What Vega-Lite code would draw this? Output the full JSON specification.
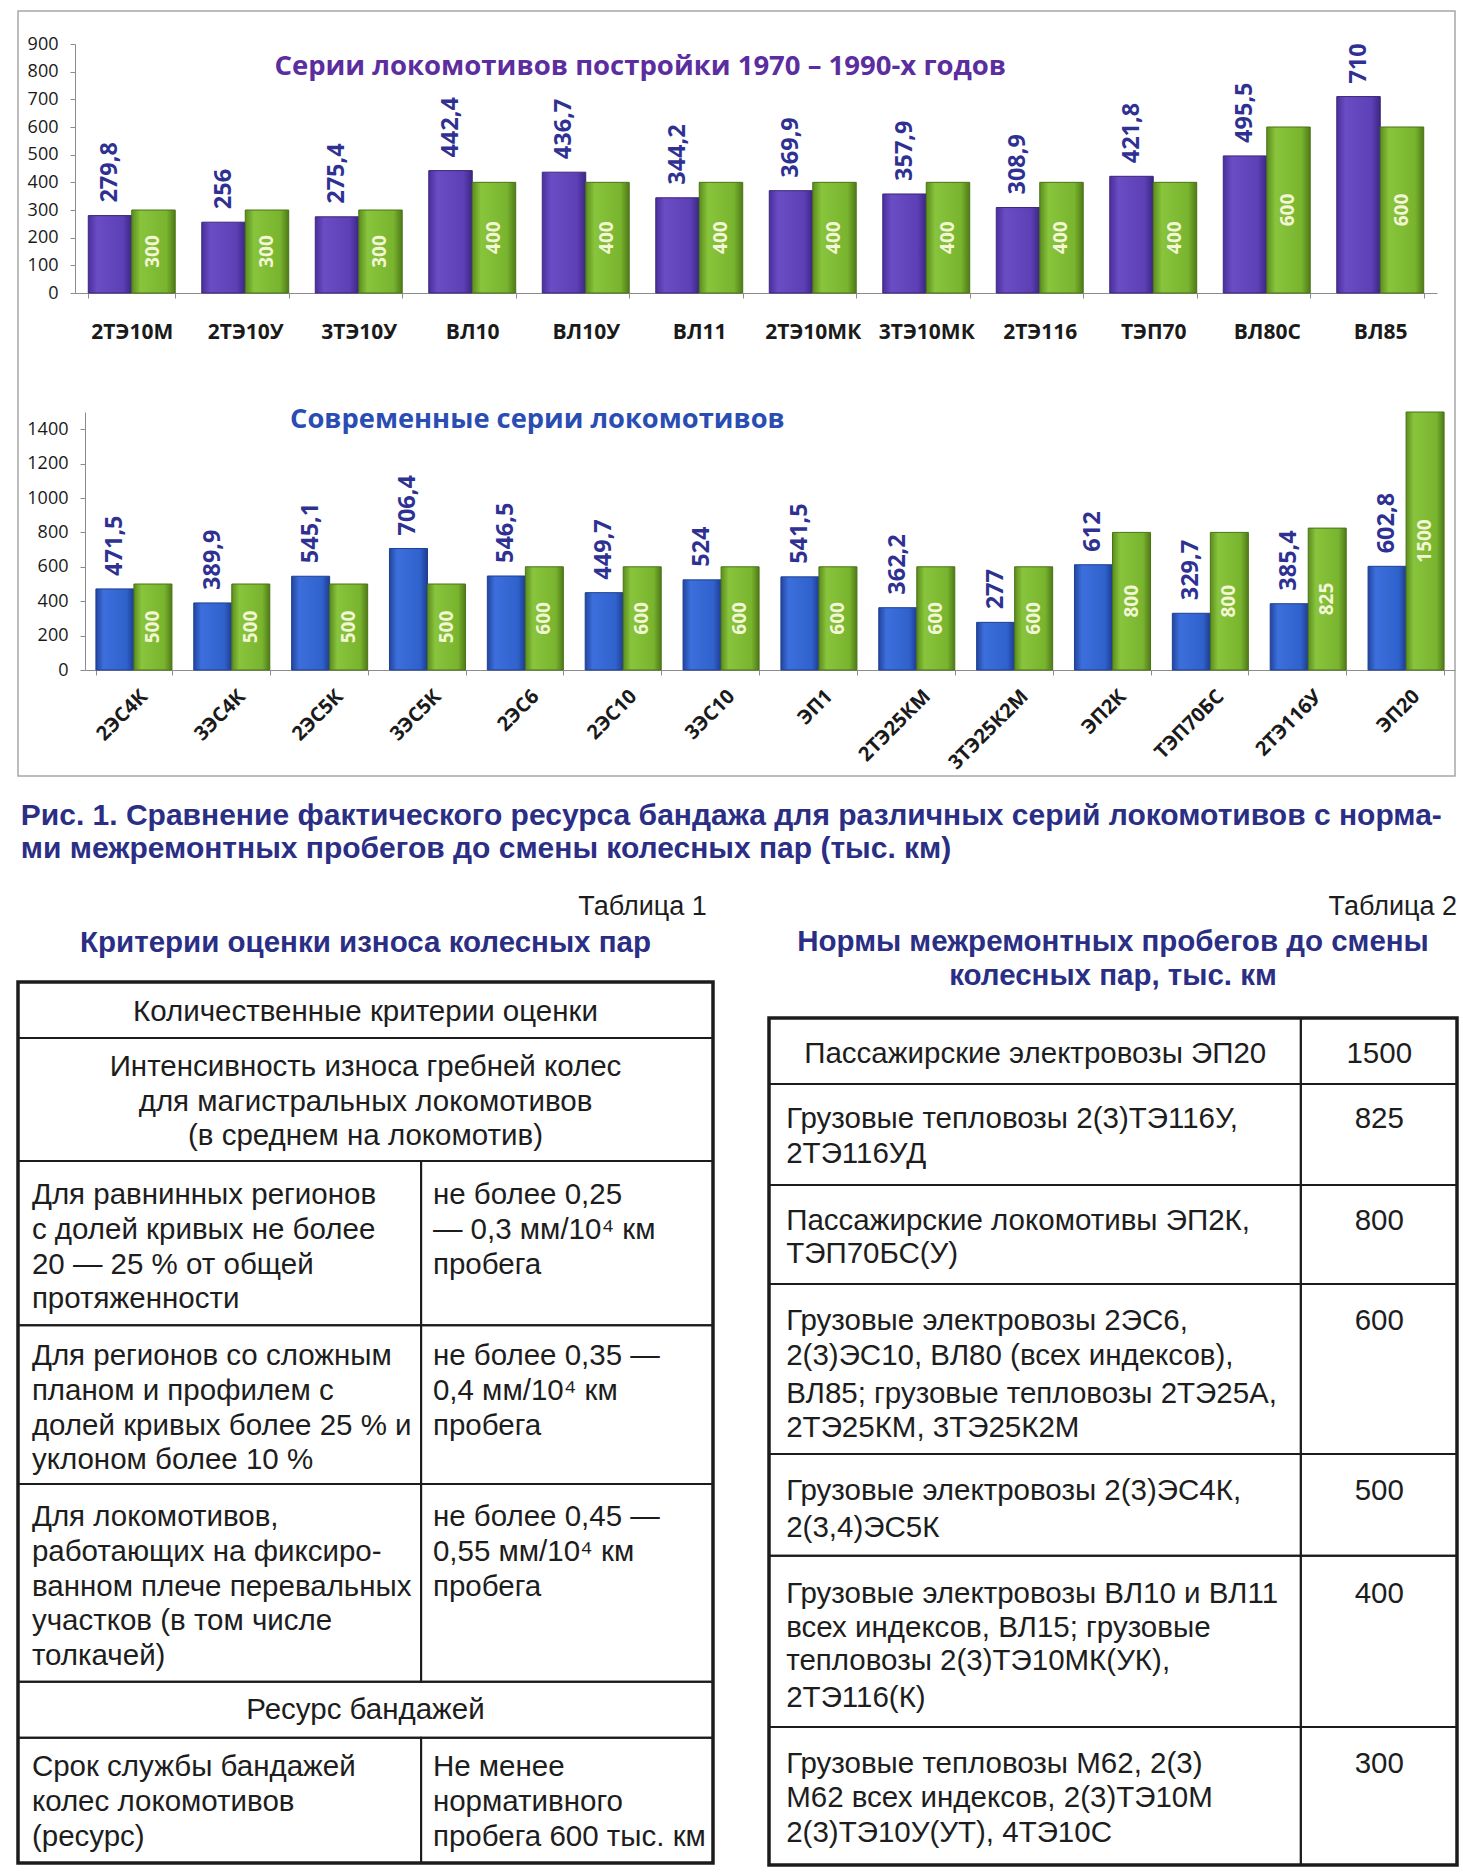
{
  "$schema": "https://vega.github.io/schema/vega-lite/v6.json",
  "padding": {"left": 10, "top": 10, "right": 0, "bottom": 0},
  "autosize": {"type": "pad"},
  "background": "white",
  "spacing": 0,
  "bounds": "flush",
  "config": {
    "locale": {"number": {"decimal": ",", "thousands": " ", "grouping": [3], "currency": ["", ""]}},
    "view": {"stroke": null},
    "axis": {"grid": false, "title": null}
  },
  "datasets": {
    "old": [
      {"loco": "2ТЭ10М", "fact": 279.8, "norm": 300},
      {"loco": "2ТЭ10У", "fact": 256, "norm": 300},
      {"loco": "3ТЭ10У", "fact": 275.4, "norm": 300},
      {"loco": "ВЛ10", "fact": 442.4, "norm": 400},
      {"loco": "ВЛ10У", "fact": 436.7, "norm": 400},
      {"loco": "ВЛ11", "fact": 344.2, "norm": 400},
      {"loco": "2ТЭ10МК", "fact": 369.9, "norm": 400},
      {"loco": "3ТЭ10МК", "fact": 357.9, "norm": 400},
      {"loco": "2ТЭ116", "fact": 308.9, "norm": 400},
      {"loco": "ТЭП70", "fact": 421.8, "norm": 400},
      {"loco": "ВЛ80С", "fact": 495.5, "norm": 600},
      {"loco": "ВЛ85", "fact": 710, "norm": 600}
    ],
    "modern": [
      {"loco": "2ЭС4К", "fact": 471.5, "norm": 500},
      {"loco": "3ЭС4К", "fact": 389.9, "norm": 500},
      {"loco": "2ЭС5К", "fact": 545.1, "norm": 500},
      {"loco": "3ЭС5К", "fact": 706.4, "norm": 500},
      {"loco": "2ЭС6", "fact": 546.5, "norm": 600},
      {"loco": "2ЭС10", "fact": 449.7, "norm": 600},
      {"loco": "3ЭС10", "fact": 524, "norm": 600},
      {"loco": "ЭП1", "fact": 541.5, "norm": 600},
      {"loco": "2ТЭ25КМ", "fact": 362.2, "norm": 600},
      {"loco": "3ТЭ25К2М", "fact": 277, "norm": 600},
      {"loco": "ЭП2К", "fact": 612, "norm": 800},
      {"loco": "ТЭП70БС", "fact": 329.7, "norm": 800},
      {"loco": "2ТЭ116У", "fact": 385.4, "norm": 825},
      {"loco": "ЭП20", "fact": 602.8, "norm": 1500}
    ],
    "t1cells": [
      {"x0": 0, "x1": 1, "y0": 0, "y1": 1.61},
      {"x0": 0, "x1": 1, "y0": 1.61, "y1": 5.15},
      {"x0": 0, "x1": 0.58, "y0": 5.15, "y1": 9.87},
      {"x0": 0.58, "x1": 1, "y0": 5.15, "y1": 9.87},
      {"x0": 0, "x1": 0.58, "y0": 9.87, "y1": 14.44},
      {"x0": 0.58, "x1": 1, "y0": 9.87, "y1": 14.44},
      {"x0": 0, "x1": 0.58, "y0": 14.44, "y1": 20.13},
      {"x0": 0.58, "x1": 1, "y0": 14.44, "y1": 20.13},
      {"x0": 0, "x1": 1, "y0": 20.13, "y1": 21.74},
      {"x0": 0, "x1": 0.58, "y0": 21.74, "y1": 25.34},
      {"x0": 0.58, "x1": 1, "y0": 21.74, "y1": 25.34}
    ],
    "t1text": [
      {"k": "cap", "x": 0.004, "ln": -4.77, "text": "Рис. 1. Сравнение фактического ресурса бандажа для различных серий локомотивов с норма-"},
      {"k": "cap", "x": 0.004, "ln": -3.82, "text": "ми межремонтных пробегов до смены колесных пар (тыс. км)"},
      {"k": "tab", "x": 0.991, "ln": -2.17, "text": "Таблица 1"},
      {"k": "ttl", "x": 0.5, "ln": -1.11, "text": "Критерии оценки износа колесных пар"},
      {"k": "hdr", "x": 0.5, "ln": 0.86, "text": "Количественные критерии оценки"},
      {"k": "hdr", "x": 0.5, "ln": 2.44, "text": "Интенсивность износа гребней колес"},
      {"k": "hdr", "x": 0.5, "ln": 3.44, "text": "для магистральных локомотивов"},
      {"k": "hdr", "x": 0.5, "ln": 4.44, "text": "(в среднем на локомотив)"},
      {"k": "txt", "x": 0.02, "ln": 6.13, "text": "Для равнинных регионов"},
      {"k": "txt", "x": 0.02, "ln": 7.13, "text": "с долей кривых не более"},
      {"k": "txt", "x": 0.02, "ln": 8.13, "text": "20 — 25 % от общей"},
      {"k": "txt", "x": 0.02, "ln": 9.13, "text": "протяженности"},
      {"k": "txt", "x": 0.597, "ln": 6.13, "text": "не более 0,25"},
      {"k": "txt", "x": 0.597, "ln": 7.13, "text": "— 0,3 мм/10⁴ км"},
      {"k": "txt", "x": 0.597, "ln": 8.13, "text": "пробега"},
      {"k": "txt", "x": 0.02, "ln": 10.76, "text": "Для регионов со сложным"},
      {"k": "txt", "x": 0.02, "ln": 11.76, "text": "планом и профилем с"},
      {"k": "txt", "x": 0.02, "ln": 12.76, "text": "долей кривых более 25 % и"},
      {"k": "txt", "x": 0.02, "ln": 13.76, "text": "уклоном более 10 %"},
      {"k": "txt", "x": 0.597, "ln": 10.76, "text": "не более 0,35 —"},
      {"k": "txt", "x": 0.597, "ln": 11.76, "text": "0,4 мм/10⁴ км"},
      {"k": "txt", "x": 0.597, "ln": 12.76, "text": "пробега"},
      {"k": "txt", "x": 0.02, "ln": 15.39, "text": "Для локомотивов,"},
      {"k": "txt", "x": 0.02, "ln": 16.39, "text": "работающих на фиксиро-"},
      {"k": "txt", "x": 0.02, "ln": 17.39, "text": "ванном плече перевальных"},
      {"k": "txt", "x": 0.02, "ln": 18.39, "text": "участков (в том числе"},
      {"k": "txt", "x": 0.02, "ln": 19.39, "text": "толкачей)"},
      {"k": "txt", "x": 0.597, "ln": 15.39, "text": "не более 0,45 —"},
      {"k": "txt", "x": 0.597, "ln": 16.39, "text": "0,55 мм/10⁴ км"},
      {"k": "txt", "x": 0.597, "ln": 17.39, "text": "пробега"},
      {"k": "hdr", "x": 0.5, "ln": 20.94, "text": "Ресурс бандажей"},
      {"k": "txt", "x": 0.02, "ln": 22.58, "text": "Срок службы бандажей"},
      {"k": "txt", "x": 0.02, "ln": 23.58, "text": "колес локомотивов"},
      {"k": "txt", "x": 0.02, "ln": 24.58, "text": "(ресурс)"},
      {"k": "txt", "x": 0.597, "ln": 22.58, "text": "Не менее"},
      {"k": "txt", "x": 0.597, "ln": 23.58, "text": "нормативного"},
      {"k": "txt", "x": 0.597, "ln": 24.58, "text": "пробега 600 тыс. км"}
    ],
    "t2cells": [
      {"x0": 0, "x1": 0.773, "y0": 0, "y1": 1.91},
      {"x0": 0.773, "x1": 1, "y0": 0, "y1": 1.91},
      {"x0": 0, "x1": 0.773, "y0": 1.91, "y1": 4.84},
      {"x0": 0.773, "x1": 1, "y0": 1.91, "y1": 4.84},
      {"x0": 0, "x1": 0.773, "y0": 4.84, "y1": 7.71},
      {"x0": 0.773, "x1": 1, "y0": 4.84, "y1": 7.71},
      {"x0": 0, "x1": 0.773, "y0": 7.71, "y1": 12.64},
      {"x0": 0.773, "x1": 1, "y0": 7.71, "y1": 12.64},
      {"x0": 0, "x1": 0.773, "y0": 12.64, "y1": 15.59},
      {"x0": 0.773, "x1": 1, "y0": 12.64, "y1": 15.59},
      {"x0": 0, "x1": 0.773, "y0": 15.59, "y1": 20.55},
      {"x0": 0.773, "x1": 1, "y0": 15.59, "y1": 20.55},
      {"x0": 0, "x1": 0.773, "y0": 20.55, "y1": 24.55},
      {"x0": 0.773, "x1": 1, "y0": 20.55, "y1": 24.55}
    ],
    "t2text": [
      {"k": "tab", "x": 1, "ln": -3.23, "text": "Таблица 2"},
      {"k": "ttl", "x": 0.5, "ln": -2.2, "text": "Нормы межремонтных пробегов до смены"},
      {"k": "ttl", "x": 0.5, "ln": -1.22, "text": "колесных пар, тыс. км"},
      {"k": "hdr", "x": 0.387, "ln": 1.04, "text": "Пассажирские электровозы ЭП20"},
      {"k": "hdr", "x": 0.887, "ln": 1.04, "text": "1500"},
      {"k": "txt", "x": 0.025, "ln": 2.93, "text": "Грузовые тепловозы 2(3)ТЭ116У,"},
      {"k": "txt", "x": 0.025, "ln": 3.94, "text": "2ТЭ116УД"},
      {"k": "hdr", "x": 0.887, "ln": 2.93, "text": "825"},
      {"k": "txt", "x": 0.025, "ln": 5.88, "text": "Пассажирские локомотивы ЭП2К,"},
      {"k": "txt", "x": 0.025, "ln": 6.84, "text": "ТЭП70БС(У)"},
      {"k": "hdr", "x": 0.887, "ln": 5.88, "text": "800"},
      {"k": "txt", "x": 0.025, "ln": 8.78, "text": "Грузовые электровозы 2ЭС6,"},
      {"k": "txt", "x": 0.025, "ln": 9.8, "text": "2(3)ЭС10, ВЛ80 (всех индексов),"},
      {"k": "txt", "x": 0.025, "ln": 10.9, "text": "ВЛ85; грузовые тепловозы 2ТЭ25А,"},
      {"k": "txt", "x": 0.025, "ln": 11.88, "text": "2ТЭ25КМ, 3ТЭ25К2М"},
      {"k": "hdr", "x": 0.887, "ln": 8.78, "text": "600"},
      {"k": "txt", "x": 0.025, "ln": 13.71, "text": "Грузовые электровозы 2(3)ЭС4К,"},
      {"k": "txt", "x": 0.025, "ln": 14.78, "text": "2(3,4)ЭС5К"},
      {"k": "hdr", "x": 0.887, "ln": 13.71, "text": "500"},
      {"k": "txt", "x": 0.025, "ln": 16.7, "text": "Грузовые электровозы ВЛ10 и ВЛ11"},
      {"k": "txt", "x": 0.025, "ln": 17.68, "text": "всех индексов, ВЛ15; грузовые"},
      {"k": "txt", "x": 0.025, "ln": 18.64, "text": "тепловозы 2(3)ТЭ10МК(УК),"},
      {"k": "txt", "x": 0.025, "ln": 19.71, "text": "2ТЭ116(К)"},
      {"k": "hdr", "x": 0.887, "ln": 16.7, "text": "400"},
      {"k": "txt", "x": 0.025, "ln": 21.62, "text": "Грузовые тепловозы М62, 2(3)"},
      {"k": "txt", "x": 0.025, "ln": 22.61, "text": "М62 всех индексов, 2(3)ТЭ10М"},
      {"k": "txt", "x": 0.025, "ln": 23.62, "text": "2(3)ТЭ10У(УТ), 4ТЭ10С"},
      {"k": "hdr", "x": 0.887, "ln": 21.62, "text": "300"}
    ]
  },
  "vconcat": [
    {
      "width": 1437,
      "height": 765,
      "view": {"stroke": "#a6a6a6", "strokeWidth": 1.5},
      "layer": [
        {
          "data": {"name": "old"},
          "encoding": {
            "x": {
              "field": "loco", "type": "nominal", "sort": null,
              "scale": {"domain": ["2ТЭ10М", "2ТЭ10У", "3ТЭ10У", "ВЛ10", "ВЛ10У", "ВЛ11", "2ТЭ10МК", "3ТЭ10МК", "2ТЭ116", "ТЭП70", "ВЛ80С", "ВЛ85"], "range": [57, 1419], "paddingInner": 0.234, "paddingOuter": 0.117},
              "axis": {"orient": "bottom", "offset": -483, "labelAngle": 0, "labelFont": "Open Sans", "labelFontWeight": "bold", "labelFontSize": 21, "labelColor": "#1a1a1a", "labelPadding": 34, "labelBaseline": "middle", "labelOverlap": false, "tickBand": "extent", "tickSize": 5, "tickColor": "#8c8c8c", "domainColor": "#8c8c8c"}
            }
          },
          "layer": [
            {
              "mark": {"type": "bar", "color": {"gradient": "linear", "x1": 0, "y1": 0, "x2": 1, "y2": 0, "stops": [{"offset": 0, "color": "#4a2f9c"}, {"offset": 0.2, "color": "#6a4cc4"}, {"offset": 0.8, "color": "#5d3fb6"}, {"offset": 1, "color": "#3b2783"}]}, "stroke": "#3a2778", "strokeWidth": 1},
              "encoding": {
                "xOffset": {"datum": "fact", "scale": {"domain": ["fact", "norm"], "paddingInner": 0, "paddingOuter": 0}},
                "y": {"field": "fact", "type": "quantitative", "scale": {"domain": [0, 900], "range": [282, 33], "nice": false},
                  "axis": {"orient": "left", "offset": -57, "values": [0, 100, 200, 300, 400, 500, 600, 700, 800, 900], "format": "d", "labelFont": "Open Sans", "labelFontSize": 18, "labelColor": "#1a1a1a", "labelPadding": 12, "tickSize": 5, "tickColor": "#8c8c8c", "domainColor": "#8c8c8c"}}
              }
            },
            {
              "mark": {"type": "bar", "color": {"gradient": "linear", "x1": 0, "y1": 0, "x2": 1, "y2": 0, "stops": [{"offset": 0, "color": "#5c8d1e"}, {"offset": 0.2, "color": "#88c43c"}, {"offset": 0.8, "color": "#79b42e"}, {"offset": 1, "color": "#4f7a18"}]}, "stroke": "#4a7316", "strokeWidth": 1},
              "encoding": {
                "xOffset": {"datum": "norm"},
                "y": {"field": "norm", "type": "quantitative", "scale": {"domain": [0, 900], "range": [282, 33], "nice": false}, "axis": null}
              }
            },
            {
              "mark": {"type": "text", "angle": 270, "align": "left", "baseline": "middle", "dx": 13, "font": "Open Sans", "fontWeight": "bold", "fontSize": 23.5, "color": "#2e3192"},
              "encoding": {
                "xOffset": {"datum": "fact"},
                "y": {"field": "fact", "type": "quantitative", "scale": {"domain": [0, 900], "range": [282, 33], "nice": false}, "axis": null},
                "text": {"field": "fact", "type": "quantitative", "format": ".1~f"}
              }
            },
            {
              "mark": {"type": "text", "angle": 270, "align": "center", "baseline": "middle", "font": "Open Sans", "fontWeight": "bold", "fontSize": 19, "color": "#f3f6d4"},
              "encoding": {
                "xOffset": {"datum": "norm"},
                "y": {"field": "norm", "type": "quantitative", "scale": {"domain": [0, 1800], "range": [282, 33], "nice": false}, "axis": null},
                "text": {"field": "norm", "type": "quantitative", "format": "d"}
              }
            },
            {
              "data": {"values": [{"t": "Серии локомотивов постройки 1970 – 1990-х годов"}]},
              "mark": {"type": "text", "align": "center", "baseline": "middle", "dx": -59, "font": "Open Sans", "fontWeight": "bold", "fontSize": 27.5, "color": "#5b2d9e"},
              "encoding": {
                "x": {"datum": "ВЛ11"},
                "y": {"datum": 817, "type": "quantitative", "scale": {"domain": [0, 900], "range": [282, 33], "nice": false}, "axis": null},
                "text": {"field": "t"}
              }
            }
          ],
          "resolve": {"scale": {"y": "independent"}, "axis": {"y": "independent"}}
        },
        {
          "data": {"name": "modern"},
          "encoding": {
            "x": {
              "field": "loco", "type": "nominal", "sort": null,
              "scale": {"domain": ["2ЭС4К", "3ЭС4К", "2ЭС5К", "3ЭС5К", "2ЭС6", "2ЭС10", "3ЭС10", "ЭП1", "2ТЭ25КМ", "3ТЭ25К2М", "ЭП2К", "ТЭП70БС", "2ТЭ116У", "ЭП20"], "range": [67, 1437], "paddingInner": 0.223, "paddingOuter": 0.1115},
              "axis": {"orient": "bottom", "offset": -106, "labelAngle": -45, "labelAlign": "right", "labelBaseline": "middle", "labelFont": "Open Sans", "labelFontWeight": "bold", "labelFontSize": 20, "labelColor": "#1a1a1a", "labelPadding": 18, "labelOffset": 10, "labelOverlap": false, "tickBand": "extent", "tickSize": 5, "tickColor": "#8c8c8c", "domainColor": "#8c8c8c"}
            }
          },
          "layer": [
            {
              "mark": {"type": "bar", "color": {"gradient": "linear", "x1": 0, "y1": 0, "x2": 1, "y2": 0, "stops": [{"offset": 0, "color": "#22459f"}, {"offset": 0.2, "color": "#3c6fdc"}, {"offset": 0.8, "color": "#3062cc"}, {"offset": 1, "color": "#1e3d92"}]}, "stroke": "#1f3f90", "strokeWidth": 1},
              "encoding": {
                "xOffset": {"datum": "fact", "scale": {"domain": ["fact", "norm"], "paddingInner": 0, "paddingOuter": 0}},
                "y": {"field": "fact", "type": "quantitative", "scale": {"domain": [0, 1500], "range": [659, 401], "nice": false},
                  "axis": {"orient": "left", "offset": -67, "values": [0, 200, 400, 600, 800, 1000, 1200, 1400], "format": "d", "labelFont": "Open Sans", "labelFontSize": 18, "labelColor": "#1a1a1a", "labelPadding": 12, "tickSize": 5, "tickColor": "#8c8c8c", "domainColor": "#8c8c8c"}}
              }
            },
            {
              "mark": {"type": "bar", "color": {"gradient": "linear", "x1": 0, "y1": 0, "x2": 1, "y2": 0, "stops": [{"offset": 0, "color": "#5c8d1e"}, {"offset": 0.2, "color": "#88c43c"}, {"offset": 0.8, "color": "#79b42e"}, {"offset": 1, "color": "#4f7a18"}]}, "stroke": "#4a7316", "strokeWidth": 1},
              "encoding": {
                "xOffset": {"datum": "norm"},
                "y": {"field": "norm", "type": "quantitative", "scale": {"domain": [0, 1500], "range": [659, 401], "nice": false}, "axis": null}
              }
            },
            {
              "mark": {"type": "text", "angle": 270, "align": "left", "baseline": "middle", "dx": 13, "font": "Open Sans", "fontWeight": "bold", "fontSize": 23.5, "color": "#2e3192"},
              "encoding": {
                "xOffset": {"datum": "fact"},
                "y": {"field": "fact", "type": "quantitative", "scale": {"domain": [0, 1500], "range": [659, 401], "nice": false}, "axis": null},
                "text": {"field": "fact", "type": "quantitative", "format": ".1~f"}
              }
            },
            {
              "mark": {"type": "text", "angle": 270, "align": "center", "baseline": "middle", "font": "Open Sans", "fontWeight": "bold", "fontSize": 19, "color": "#f3f6d4"},
              "encoding": {
                "xOffset": {"datum": "norm"},
                "y": {"field": "norm", "type": "quantitative", "scale": {"domain": [0, 3000], "range": [659, 401], "nice": false}, "axis": null},
                "text": {"field": "norm", "type": "quantitative", "format": "d"}
              }
            },
            {
              "data": {"values": [{"t": "Современные серии локомотивов"}]},
              "mark": {"type": "text", "align": "center", "baseline": "middle", "dx": 12, "font": "Open Sans", "fontWeight": "bold", "fontSize": 27.3, "color": "#2a4db3"},
              "encoding": {
                "x": {"datum": "2ЭС6"},
                "y": {"datum": 1453, "type": "quantitative", "scale": {"domain": [0, 1500], "range": [659, 401], "nice": false}, "axis": null},
                "text": {"field": "t"}
              }
            }
          ],
          "resolve": {"scale": {"y": "independent"}, "axis": {"y": "independent"}}
        }
      ],
      "resolve": {"scale": {"x": "independent", "y": "independent", "xOffset": "independent"}, "axis": {"x": "independent", "y": "independent"}}
    },
    {
      "width": 1445,
      "height": 1100,
      "layer": [
        {
          "data": {"name": "t1text"},
          "layer": [
            {
              "data": {"name": "t1cells"},
              "mark": {"type": "rect", "fill": "transparent", "stroke": "#1c1c1c", "strokeWidth": 2},
              "encoding": {
                "x": {"field": "x0", "type": "quantitative", "scale": {"domain": [0, 1], "range": [0, 695], "nice": false, "zero": false}, "axis": null},
                "x2": {"field": "x1"},
                "y": {"field": "y0", "type": "quantitative", "scale": {"domain": [0, 25.34], "range": [206, 1087], "nice": false, "zero": false}, "axis": null},
                "y2": {"field": "y1"}
              }
            },
            {
              "data": {"values": [{}]},
              "mark": {"type": "rect", "fill": "transparent", "stroke": "#1c1c1c", "strokeWidth": 3.5},
              "encoding": {
                "x": {"datum": 0, "type": "quantitative"},
                "x2": {"datum": 1},
                "y": {"datum": 0, "type": "quantitative"},
                "y2": {"datum": 25.34}
              }
            },
            {
              "transform": [{"filter": "datum.k == 'txt'"}],
              "mark": {"type": "text", "align": "left", "baseline": "middle", "font": "Liberation Sans", "fontSize": 29.5, "color": "#1d1d1d"},
              "encoding": {"x": {"field": "x", "type": "quantitative"}, "y": {"field": "ln", "type": "quantitative"}, "text": {"field": "text"}}
            },
            {
              "transform": [{"filter": "datum.k == 'hdr'"}],
              "mark": {"type": "text", "align": "center", "baseline": "middle", "font": "Liberation Sans", "fontSize": 29.5, "color": "#1d1d1d"},
              "encoding": {"x": {"field": "x", "type": "quantitative"}, "y": {"field": "ln", "type": "quantitative"}, "text": {"field": "text"}}
            },
            {
              "transform": [{"filter": "datum.k == 'ttl'"}],
              "mark": {"type": "text", "align": "center", "baseline": "middle", "font": "Liberation Sans", "fontWeight": "bold", "fontSize": 29.5, "color": "#2b2e85"},
              "encoding": {"x": {"field": "x", "type": "quantitative"}, "y": {"field": "ln", "type": "quantitative"}, "text": {"field": "text"}}
            },
            {
              "transform": [{"filter": "datum.k == 'cap'"}],
              "mark": {"type": "text", "align": "left", "baseline": "middle", "font": "Liberation Sans", "fontWeight": "bold", "fontSize": 30, "color": "#2b2e85"},
              "encoding": {"x": {"field": "x", "type": "quantitative"}, "y": {"field": "ln", "type": "quantitative"}, "text": {"field": "text"}}
            },
            {
              "transform": [{"filter": "datum.k == 'tab'"}],
              "mark": {"type": "text", "align": "right", "baseline": "middle", "font": "Liberation Sans", "fontSize": 27, "color": "#1d1d1d"},
              "encoding": {"x": {"field": "x", "type": "quantitative"}, "y": {"field": "ln", "type": "quantitative"}, "text": {"field": "text"}}
            }
          ]
        },
        {
          "data": {"name": "t2text"},
          "layer": [
            {
              "data": {"name": "t2cells"},
              "mark": {"type": "rect", "fill": "transparent", "stroke": "#1c1c1c", "strokeWidth": 2},
              "encoding": {
                "x": {"field": "x0", "type": "quantitative", "scale": {"domain": [0, 1], "range": [751, 1439], "nice": false, "zero": false}, "axis": null},
                "x2": {"field": "x1"},
                "y": {"field": "y0", "type": "quantitative", "scale": {"domain": [0, 24.55], "range": [242, 1089], "nice": false, "zero": false}, "axis": null},
                "y2": {"field": "y1"}
              }
            },
            {
              "data": {"values": [{}]},
              "mark": {"type": "rect", "fill": "transparent", "stroke": "#1c1c1c", "strokeWidth": 3.5},
              "encoding": {
                "x": {"datum": 0, "type": "quantitative"},
                "x2": {"datum": 1},
                "y": {"datum": 0, "type": "quantitative"},
                "y2": {"datum": 24.55}
              }
            },
            {
              "transform": [{"filter": "datum.k == 'txt'"}],
              "mark": {"type": "text", "align": "left", "baseline": "middle", "font": "Liberation Sans", "fontSize": 29.5, "color": "#1d1d1d"},
              "encoding": {"x": {"field": "x", "type": "quantitative"}, "y": {"field": "ln", "type": "quantitative"}, "text": {"field": "text"}}
            },
            {
              "transform": [{"filter": "datum.k == 'hdr'"}],
              "mark": {"type": "text", "align": "center", "baseline": "middle", "font": "Liberation Sans", "fontSize": 29.5, "color": "#1d1d1d"},
              "encoding": {"x": {"field": "x", "type": "quantitative"}, "y": {"field": "ln", "type": "quantitative"}, "text": {"field": "text"}}
            },
            {
              "transform": [{"filter": "datum.k == 'ttl'"}],
              "mark": {"type": "text", "align": "center", "baseline": "middle", "font": "Liberation Sans", "fontWeight": "bold", "fontSize": 29.5, "color": "#2b2e85"},
              "encoding": {"x": {"field": "x", "type": "quantitative"}, "y": {"field": "ln", "type": "quantitative"}, "text": {"field": "text"}}
            },
            {
              "transform": [{"filter": "datum.k == 'tab'"}],
              "mark": {"type": "text", "align": "right", "baseline": "middle", "font": "Liberation Sans", "fontSize": 27, "color": "#1d1d1d"},
              "encoding": {"x": {"field": "x", "type": "quantitative"}, "y": {"field": "ln", "type": "quantitative"}, "text": {"field": "text"}}
            }
          ]
        }
      ],
      "resolve": {"scale": {"x": "independent", "y": "independent"}, "axis": {"x": "independent", "y": "independent"}}
    }
  ]
}
